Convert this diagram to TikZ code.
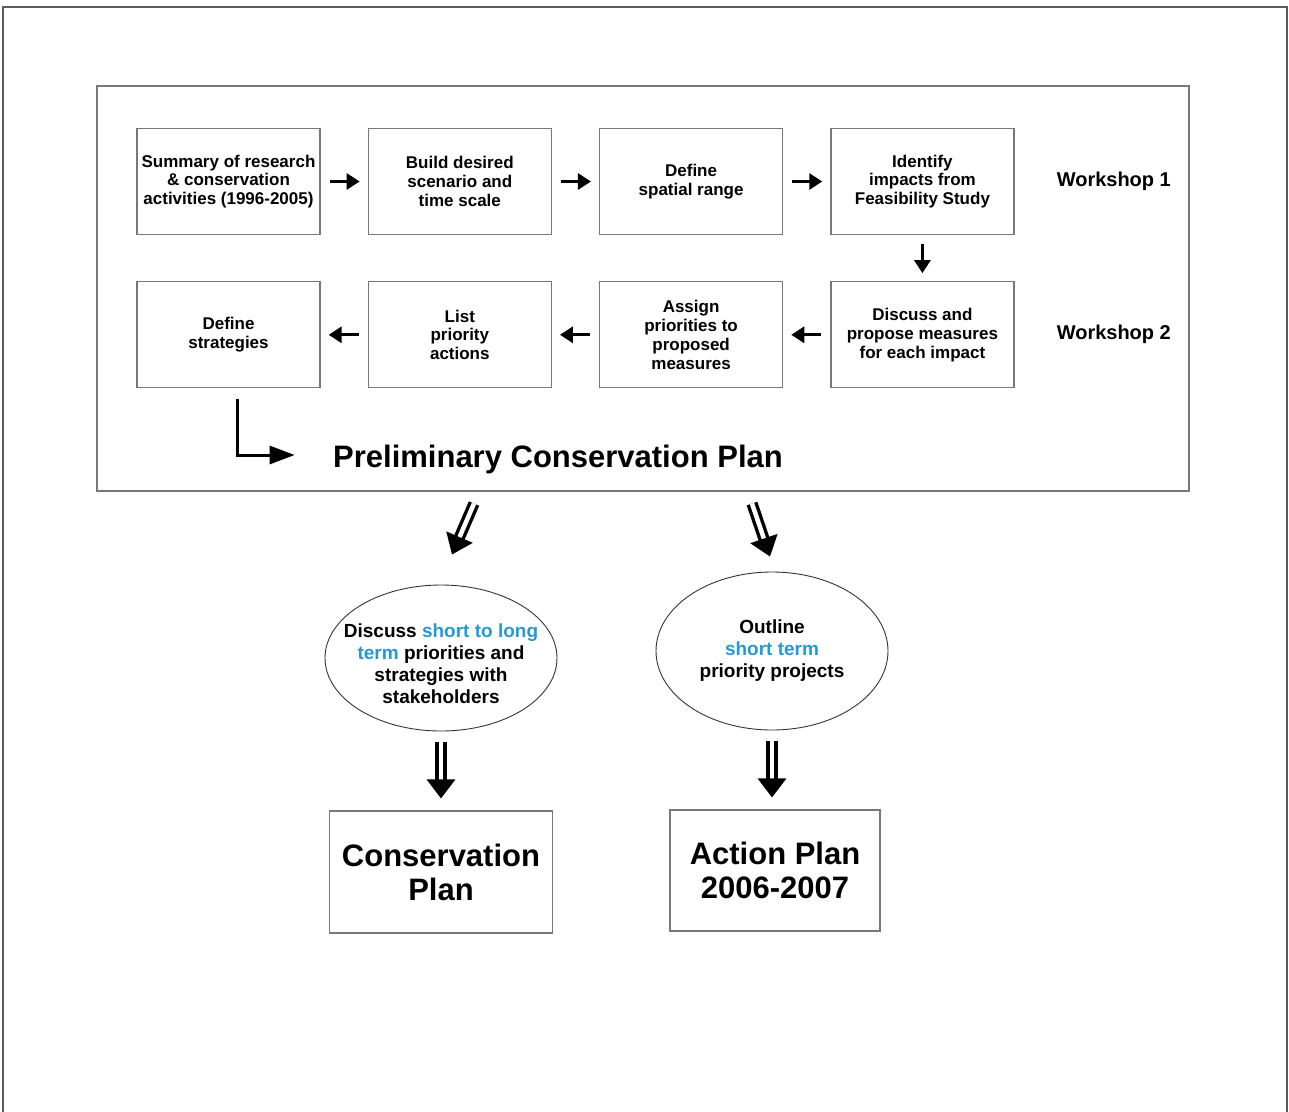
\documentclass[tikz,border=0pt]{standalone}
\usepackage{fontspec}
\setmainfont{Liberation Sans}
\usetikzlibrary{positioning,arrows.meta,shapes.geometric}
\definecolor{termblue}{RGB}{38,152,212}
\definecolor{boxgray}{RGB}{120,120,120}
\definecolor{pagegray}{RGB}{90,90,90}

\begin{document}
\begin{tikzpicture}[x=1pt,y=-1pt,node distance=47pt,
  stepbox/.style={draw=boxgray,line width=1.3pt,minimum width=183pt,minimum height=106pt,
    align=center,inner sep=2pt,font=\bfseries\fontsize{17}{18.8}\selectfont},
  ovalbox/.style={draw=black!80,line width=0.9pt,ellipse,inner sep=-17pt,minimum width=232pt,
    align=center,font=\bfseries\fontsize{19}{22}\selectfont},
  planbox/.style={draw=boxgray,line width=1.3pt,align=center,
    font=\bfseries\fontsize{31}{34}\selectfont},
  sarrow/.style={line width=3pt,-{Triangle[length=13pt,width=16pt]}},
  larrow/.style={line width=3pt,-{Triangle[length=25pt,width=18pt]}},
  dblarrow/.style={line width=3.4pt,double distance=4.5pt,-{Triangle[length=19pt,width=28pt]}}]
\useasboundingbox (0,0) rectangle (1289,1111);
\draw[pagegray,line width=1.5pt] (3,1112) -- (3,7) -- (1287,7) -- (1287,1112);
\draw[boxgray,line width=1.3pt] (97,86) rectangle (1189,491);

% workshop steps
\node    (b1)    [stepbox] at (228.5,181.5)   {Summary of research\\ \& conservation\\ activities (1996-2005)};
\node    (b2)    [stepbox, right=of b1]       {Build desired\\ scenario and\\ time scale};
\node    (b3)    [stepbox, right=of b2]       {Define\\ spatial range};
\node    (b4)    [stepbox, right=of b3]       {Identify\\ impacts from\\ Feasibility Study};
\node    (b8)    [stepbox, below=46pt of b4]  {Discuss and\\ propose measures\\ for each impact};
\node    (b7)    [stepbox, left=of b8]        {Assign\\ priorities to\\ proposed\\ measures};
\node    (b6)    [stepbox, left=of b7]        {List\\ priority\\ actions};
\node    (b5)    [stepbox, left=of b6]        {Define\\ strategies};

\node    (w1)    [right=42pt of b4, inner sep=0pt, font=\bfseries\fontsize{20}{24}\selectfont] {Workshop 1};
\node    (w2)    [right=42pt of b8, inner sep=0pt, font=\bfseries\fontsize{20}{24}\selectfont] {Workshop 2};

\draw    [sarrow, shorten <=9pt, shorten >=8pt]    (b1) -- (b2);
\draw    [sarrow, shorten <=9pt, shorten >=8pt]    (b2) -- (b3);
\draw    [sarrow, shorten <=9pt, shorten >=8pt]    (b3) -- (b4);
\draw    [sarrow, shorten <=9pt, shorten >=8pt]    (b4) -- (b8);
\draw    [sarrow, shorten <=9pt, shorten >=8pt]    (b8) -- (b7);
\draw    [sarrow, shorten <=9pt, shorten >=8pt]    (b7) -- (b6);
\draw    [sarrow, shorten <=9pt, shorten >=8pt]    (b6) -- (b5);

\node    (prelim)    [anchor=base, font=\bfseries\fontsize{31}{34}\selectfont] at (558,467) {Preliminary Conservation Plan};
\draw    [larrow]    ([xshift=8.5pt,yshift=-11pt]b5.south) |- ([xshift=-35pt,yshift=12pt]prelim.base west);

% follow-up
\node    (e1)    [ovalbox, minimum height=146pt] at (441,658)
         {\rule{0pt}{26pt}Discuss {\color{termblue}short to long}\\ {\color{termblue}term} priorities and\\ strategies with\\ stakeholders};
\node    (e2)    [ovalbox, minimum height=158pt] at (772,651)
         {Outline\\ {\color{termblue}short term}\\ priority projects};

\draw    [dblarrow]    ([shift={(33,-81)}]e1.north) -- ([shift={(11,-30)}]e1.north);
\draw    [dblarrow]    ([shift={(-20,-68)}]e2.north) -- ([shift={(-2,-15)}]e2.north);

\node    (c1)    [planbox, minimum width=223pt, minimum height=122pt, below=79pt of e1]  {Conservation\\ Plan};
\node    (a1)    [planbox, minimum width=210pt, minimum height=121pt, below=79pt of e2, xshift=3pt]  {Action Plan\\ 2006-2007};

\draw    [dblarrow, shorten <=11pt, shorten >=12pt]    (e1) -- (e1 |- c1.north);
\draw    [dblarrow, shorten <=11pt, shorten >=12pt]    (e2) -- (e2 |- a1.north);
\end{tikzpicture}
\end{document}
